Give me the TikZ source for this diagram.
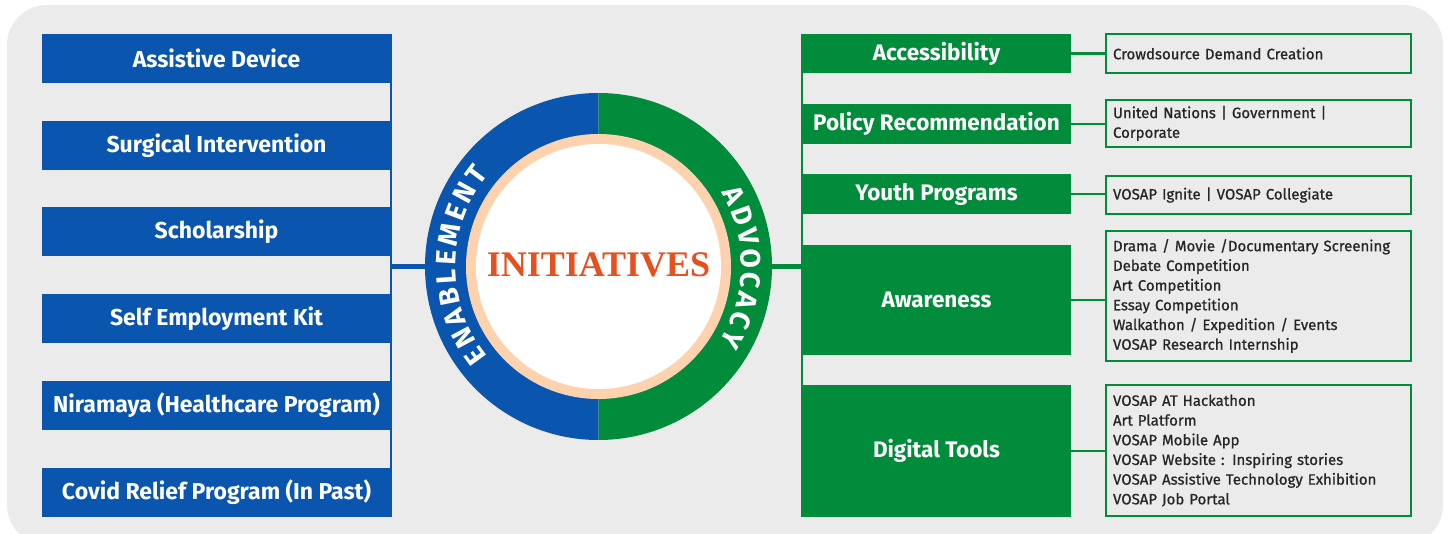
\documentclass[tikz,border=0pt]{standalone}
\usepackage{fontspec}
\setmainfont{Fira Sans}
\newfontfamily\titlefont{Liberation Serif}
\newfontfamily\listfont{Fira Sans}[FakeBold=0.8]
\usetikzlibrary{decorations.text}
\definecolor{enblue}{HTML}{0A55AE}
\definecolor{adgreen}{HTML}{008C3A}
\definecolor{bggray}{HTML}{EBEBEB}
\definecolor{ringpeach}{HTML}{FDD2AE}
\definecolor{titleorange}{HTML}{E5501F}
\definecolor{listgray}{HTML}{262626}
\tikzset{
  bluebox/.style={fill=enblue, text=white, minimum width=349, minimum height=49, inner sep=0, font=\bfseries\fontsize{23}{26}\selectfont},
  greenbox/.style={fill=adgreen, text=white, minimum width=269, inner sep=0, font=\bfseries\fontsize{22.5}{25}\selectfont},
  listbox/.style={draw=adgreen, line width=2.5, fill=bggray, text width=291, inner xsep=7, inner ysep=0, align=left, text=listgray, font=\listfont\fontsize{15}{19.7}\selectfont},
  bline/.style={enblue, line width=2.5},
  gline/.style={adgreen, line width=2.5},
  ringtext/.style={decorate, decoration={text along path, text align={fit to path}, text color=white, text={|\bfseries\fontsize{28}{30}\selectfont|#1}}},
}
\begin{document}
\begin{tikzpicture}[x=1pt,y=1pt]
\useasboundingbox (0,0) rectangle (1449,533);
\fill[bggray, rounded corners=40] (7,-12) rectangle (1443,528);
% enablement side
\node[bluebox] (ad) at (216.5,474.5) {Assistive Device};
\node[bluebox] (si) at (216.5,387.5) {Surgical Intervention};
\node[bluebox] (sc) at (216.5,301.5) {Scholarship};
\node[bluebox] (se) at (216.5,214.5) {Self Employment Kit};
\node[bluebox] (nr) at (216.5,127.5) {Niramaya (Healthcare Program)};
\node[bluebox] (cv) at (216.5,40.5) {Covid Relief Program (In Past)};
% advocacy side
\node[greenbox, minimum height=39] (acc) at (936.5,479.5) {Accessibility};
\node[greenbox, minimum height=40] (pol) at (936.5,409) {Policy Recommendation};
\node[greenbox, minimum height=40] (yth) at (936.5,339) {Youth Programs};
\node[greenbox, minimum height=110] (awa) at (936.5,233) {Awareness};
\node[greenbox, minimum height=132] (dig) at (936.5,82) {Digital Tools};
\node[listbox, minimum height=39] (acc-list) at (1258.5,479.5) {Crowdsource Demand Creation};
\node[listbox, minimum height=47] (pol-list) at (1258.5,409.5) {United Nations | Government |\\Corporate};
\node[listbox, minimum height=38] (yth-list) at (1258.5,338) {VOSAP Ignite | VOSAP Collegiate};
\node[listbox, minimum height=130] (awa-list) at (1258.5,237) {Drama / Movie /Documentary Screening\\Debate Competition\\Art Competition\\Essay Competition\\Walkathon / Expedition / Events\\VOSAP Research Internship};
\node[listbox, minimum height=131] (dig-list) at (1258.5,82.5) {VOSAP AT Hackathon\\Art Platform\\VOSAP Mobile App\\VOSAP Website : Inspiring stories\\VOSAP Assistive Technology Exhibition\\VOSAP Job Portal};
% centre ring
\coordinate (c) at (598.5,266.5);
\fill[enblue] (c) ++(90:173.5) arc[start angle=90, end angle=270, radius=173.5] -- cycle;
\fill[adgreen] (c) ++(-90:173.5) arc[start angle=-90, end angle=90, radius=173.5] -- cycle;
\fill[ringpeach] (c) circle[radius=132.5];
\fill[white] (c) circle[radius=122.5];
\node[circle, minimum size=347, inner sep=0, text=titleorange, font=\titlefont\bfseries\fontsize{36}{40}\selectfont] (init) at (c) {\raisebox{3pt}{INITIATIVES}};
\path[ringtext=ENABLEMENT] ([shift={(219:143)}]c) arc[start angle=219, end angle=140, radius=143];
\path[ringtext=ADVOCACY] ([shift={(31:143)}]c) arc[start angle=31, end angle=-32, radius=143];
% connectors
\draw[bline] (ad.north east) -- (cv.south east);
\draw[bline, line width=4.5] (init.west) -- (init.west -| ad.east);
\draw[gline] (acc.north west) -- (dig.south west);
\draw[gline, line width=4.5] (init.east) -- (init.east -| acc.west);
\foreach \a in {acc,pol,yth,awa,dig}
  \draw[gline] (\a.east) -- (\a.east -| \a-list.west);
\end{tikzpicture}
\end{document}
